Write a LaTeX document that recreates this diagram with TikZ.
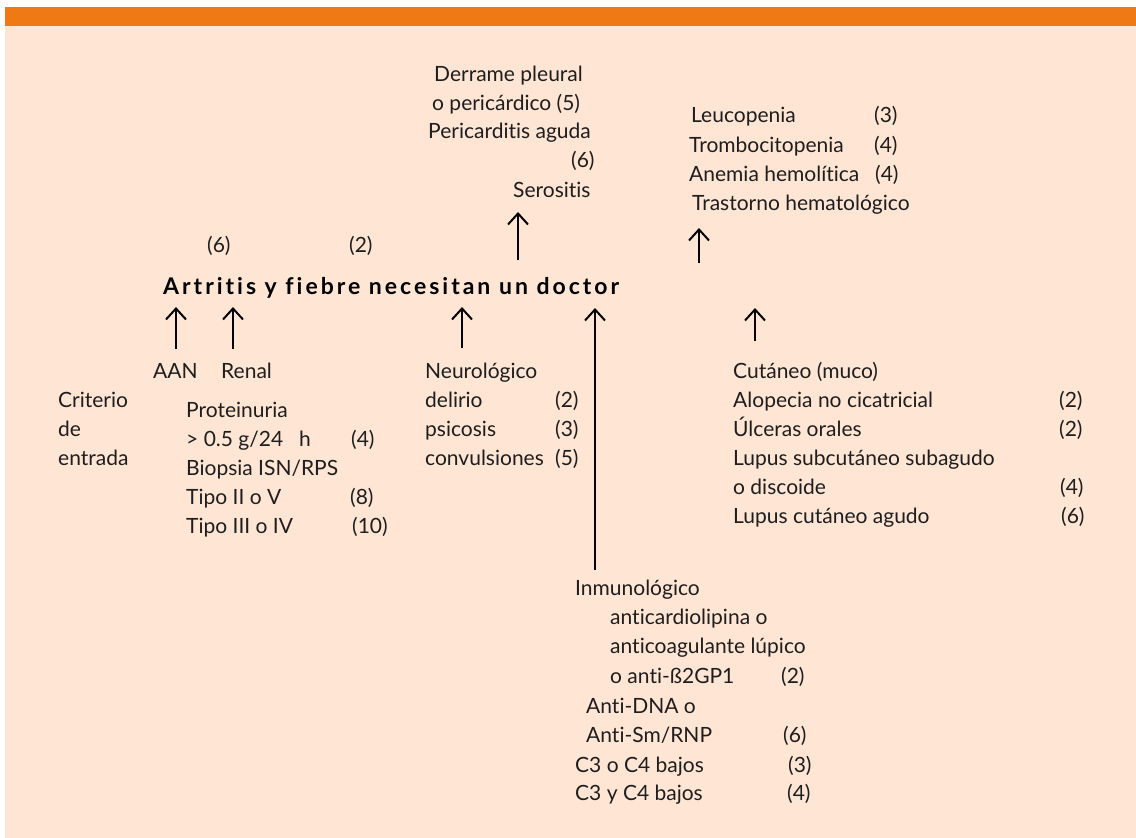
\documentclass[tikz,border=0pt]{standalone}
\usepackage{fontspec}
\setmainfont{Lato}[Ligatures={NoCommon}]
\usetikzlibrary{arrows.meta}
\definecolor{peach}{HTML}{FEE5D4}
\definecolor{orangebar}{HTML}{EF7A15}
\definecolor{ink}{HTML}{1E1E1E}
\tikzset{
  txt/.style={anchor=base west, inner sep=0pt, text=ink, font=\fontsize{21}{25}\selectfont},
  ttl/.style={anchor=base west, inner sep=0pt, text=black, font=\fontsize{23}{27}\selectfont\bfseries\addfontfeatures{LetterSpace=13}},
  arr/.style={line width=2pt, draw=black, -{Straight Barb[length=11pt,width=20pt,line width=2pt]}}
}
\begin{document}
\begin{tikzpicture}[x=1pt,y=-1pt]
\useasboundingbox (0,0) rectangle (1136,838);
\fill[white] (0,0) rectangle (1136,838);
\fill[peach] (5,7) rectangle (1136,838);
\fill[orangebar] (5,7) rectangle (1136,26);

% title
\node[ttl] (title) at (163,294) {Artritis y fiebre necesitan un doctor};
\node[txt] (p6) at (207,252) {(6)};
\node[txt] (p2) at (349,252) {(2)};

% serositis
\node[txt] (ser1) at (434,81) {Derrame pleural};
\node[txt] (ser2) at (432,110) {o pericárdico (5)};
\node[txt] (ser3) at (428,138) {Pericarditis aguda};
\node[txt] (ser4) at (571,167) {(6)};
\node[txt] (ser5) at (513,197) {Serositis};

% hematologico
\node[txt] (hem1) at (691,122) {Leucopenia};
\node[txt] (hem1n) at (874,122) {(3)};
\node[txt] (hem2) at (689,152) {Trombocitopenia};
\node[txt] (hem2n) at (874,152) {(4)};
\node[txt] (hem3) at (689,181) {Anemia hemolítica};
\node[txt] (hem3n) at (875,181) {(4)};
\node[txt] (hem4) at (692,210) {Trastorno hematológico};

% left
\node[txt] (aan) at (153,378) {AAN};
\node[txt] (ren) at (221,378) {Renal};
\node[txt] (cri1) at (58,407) {Criterio};
\node[txt] (cri2) at (58,436) {de};
\node[txt] (cri3) at (58,465) {entrada};
\node[txt] (ren1) at (186,417) {Proteinuria};
\node[txt] (ren2) at (186,446) {> 0.5 g/24\hspace{0.5em} h};
\node[txt] (ren2n) at (351,446) {(4)};
\node[txt] (ren3) at (186,475) {Biopsia ISN/RPS};
\node[txt] (ren4) at (186,504) {Tipo II o V};
\node[txt] (ren4n) at (350,504) {(8)};
\node[txt] (ren5) at (186,533) {Tipo III o IV};
\node[txt] (ren5n) at (352,533) {(10)};

% neurologico
\node[txt] (neu) at (425,378) {Neurológico};
\node[txt] (neu1) at (425,407) {delirio};
\node[txt] (neu1n) at (555,407) {(2)};
\node[txt] (neu2) at (425,436) {psicosis};
\node[txt] (neu2n) at (555,436) {(3)};
\node[txt] (neu3) at (425,465) {convulsiones};
\node[txt] (neu3n) at (555,465) {(5)};

% cutaneo
\node[txt] (cut) at (733,378) {Cutáneo (muco)};
\node[txt] (cut1) at (733,407) {Alopecia no cicatricial};
\node[txt] (cut1n) at (1059,407) {(2)};
\node[txt] (cut2) at (733,436) {Úlceras orales};
\node[txt] (cut2n) at (1059,436) {(2)};
\node[txt] (cut3) at (733,465) {Lupus subcutáneo subagudo};
\node[txt] (cut4) at (733,494) {o discoide};
\node[txt] (cut4n) at (1060,494) {(4)};
\node[txt] (cut5) at (733,523) {Lupus cutáneo agudo};
\node[txt] (cut5n) at (1061,523) {(6)};

% inmunologico
\node[txt] (inm) at (575,595) {Inmunológico};
\node[txt] (inm1) at (610,624) {anticardiolipina o};
\node[txt] (inm2) at (610,653) {anticoagulante lúpico};
\node[txt] (inm3) at (610,683) {o anti-ß2GP1};
\node[txt] (inm3n) at (781,683) {(2)};
\node[txt] (inm4) at (586,713) {Anti-DNA o};
\node[txt] (inm5) at (586,742) {Anti-Sm/RNP};
\node[txt] (inm5n) at (783,742) {(6)};
\node[txt] (inm6) at (575,772) {C3 o C4 bajos};
\node[txt] (inm6n) at (788,772) {(3)};
\node[txt] (inm7) at (575,800) {C3 y C4 bajos};
\node[txt] (inm7n) at (787,800) {(4)};

% arrow coordinates
\coordinate (aanS) at (176,349); \coordinate (aanT) at (176,307);
\coordinate (renS) at (233,349); \coordinate (renT) at (233,307);
\coordinate (neuS) at (462,348); \coordinate (neuT) at (462,307);
\coordinate (inmS) at (595,570); \coordinate (inmT) at (595,308);
\coordinate (cutS) at (755,341); \coordinate (cutT) at (755,308);
\coordinate (serS) at (518,260); \coordinate (serT) at (518,212);
\coordinate (hemS) at (699,263); \coordinate (hemT) at (699,228);

\draw[arr] (aanS) -- (aanT);
\draw[arr] (renS) -- (renT);
\draw[arr] (neuS) -- (neuT);
\draw[arr] (inmS) -- (inmT);
\draw[arr] (cutS) -- (cutT);
\draw[arr] (serS) -- (serT);
\draw[arr] (hemS) -- (hemT);
\end{tikzpicture}
\end{document}
